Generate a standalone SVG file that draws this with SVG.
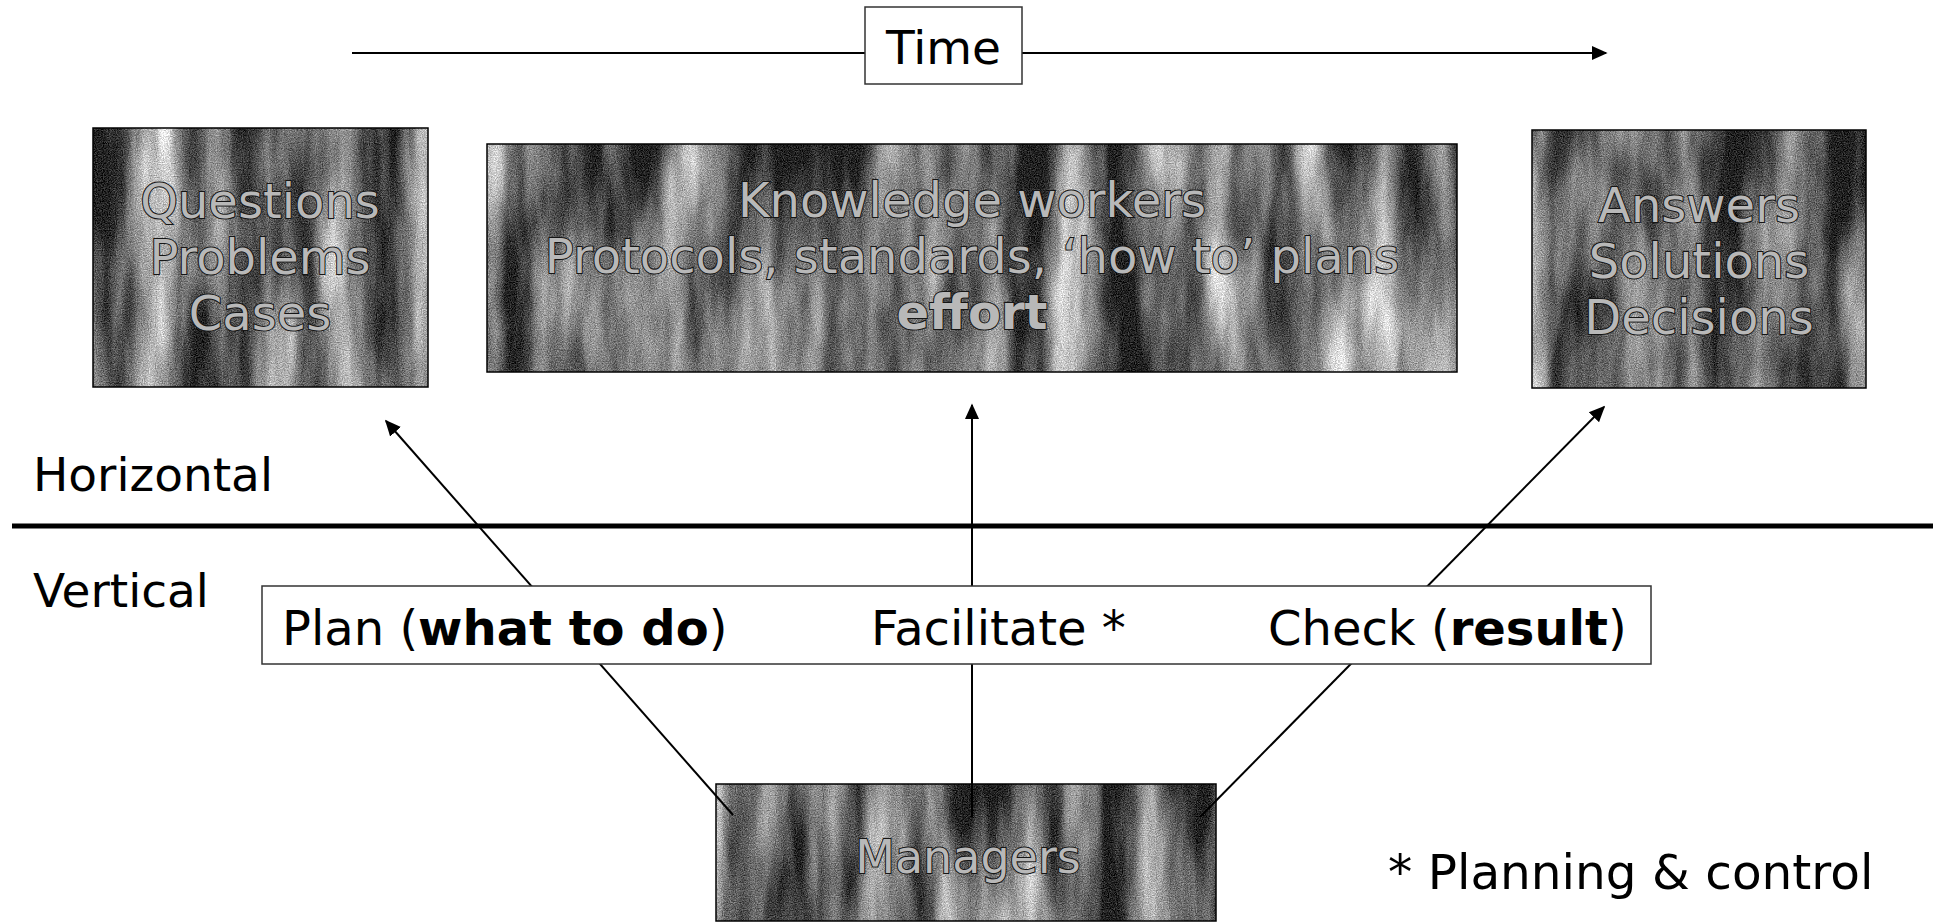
<svg xmlns="http://www.w3.org/2000/svg" width="1939" height="922" viewBox="0 0 1939 922">
  <defs>
    <filter id="grungeA" x="0" y="0" width="1" height="1" color-interpolation-filters="sRGB">
      <feTurbulence type="fractalNoise" baseFrequency="0.022 0.0035" numOctaves="4" seed="4" result="n1"/>
      <feColorMatrix in="n1" type="matrix" values="1.45 0 0 0 -0.42  1.45 0 0 0 -0.42  1.45 0 0 0 -0.42  0 0 0 0 1" result="g1"/>
      <feTurbulence type="fractalNoise" baseFrequency="0.85" numOctaves="2" seed="11" result="n2"/>
      <feColorMatrix in="n2" type="matrix" values="1 0 0 0 0  1 0 0 0 0  1 0 0 0 0  0 0 0 0 1" result="g2"/>
      <feComposite in="g1" in2="g2" operator="arithmetic" k1="0" k2="1" k3="0.6" k4="-0.17"/>
    </filter>
    <filter id="grungeB" x="0" y="0" width="1" height="1" color-interpolation-filters="sRGB">
      <feTurbulence type="fractalNoise" baseFrequency="0.02 0.004" numOctaves="4" seed="17" result="n1"/>
      <feColorMatrix in="n1" type="matrix" values="1.45 0 0 0 -0.42  1.45 0 0 0 -0.42  1.45 0 0 0 -0.42  0 0 0 0 1" result="g1"/>
      <feTurbulence type="fractalNoise" baseFrequency="0.85" numOctaves="2" seed="5" result="n2"/>
      <feColorMatrix in="n2" type="matrix" values="1 0 0 0 0  1 0 0 0 0  1 0 0 0 0  0 0 0 0 1" result="g2"/>
      <feComposite in="g1" in2="g2" operator="arithmetic" k1="0" k2="1" k3="0.6" k4="-0.17"/>
    </filter>
    <marker id="arrow" viewBox="0 0 10 10" refX="9" refY="5" markerWidth="8" markerHeight="8" markerUnits="strokeWidth" orient="auto">
      <path d="M0,0.5 L10,5 L0,9.5 Z" fill="#000"/>
    </marker>
    <style>
      text { font-family: "DejaVu Sans", Verdana, sans-serif; }
      .lbl { font-size: 47px; fill: #000; }
      .row { font-size: 48px; fill: #000; }
      .b { font-weight: bold; }
      .tex { stroke: #000; stroke-width: 1.5; fill: none; }
      .inner { font-size: 48px; fill: #b8b8b8; stroke: #151515; stroke-width: 2; paint-order: stroke; text-anchor: middle; }
      .conn { stroke: #000; stroke-width: 2; fill: none; }
      .white { fill: #fff; stroke: #333; stroke-width: 1.5; }
    </style>
  </defs>

  <rect x="0" y="0" width="1939" height="922" fill="#fff"/>

  <g id="questions">
    <rect x="93" y="128" width="335" height="259" fill="#777" filter="url(#grungeA)"/>
    <rect class="tex" x="93" y="128" width="335" height="259"/>
    <text class="inner" x="260" y="218">Questions</text>
    <text class="inner" x="260" y="274">Problems</text>
    <text class="inner" x="260" y="330">Cases</text>
  </g>

  <g id="knowledge-workers">
    <rect x="487" y="144" width="970" height="228" fill="#777" filter="url(#grungeB)"/>
    <rect class="tex" x="487" y="144" width="970" height="228"/>
    <text class="inner" x="972" y="217">Knowledge workers</text>
    <text class="inner" x="972" y="273">Protocols, standards, ‘how to’ plans</text>
    <text class="inner b" x="972" y="329">effort</text>
  </g>

  <g id="answers">
    <rect x="1532" y="130" width="334" height="258" fill="#777" filter="url(#grungeB)"/>
    <rect class="tex" x="1532" y="130" width="334" height="258"/>
    <text class="inner" x="1699" y="222">Answers</text>
    <text class="inner" x="1699" y="278">Solutions</text>
    <text class="inner" x="1699" y="334">Decisions</text>
  </g>

  <g id="managers">
    <rect x="716" y="784" width="500" height="137" fill="#777" filter="url(#grungeA)"/>
    <rect class="tex" x="716" y="784" width="500" height="137"/>
    <text class="inner" x="968" y="873" style="font-size:46px">Managers</text>
  </g>

  <g id="connectors">
    <line class="conn" x1="352" y1="53" x2="1606" y2="53" stroke-width="2.5" marker-end="url(#arrow)"/>
    <line class="conn" x1="733" y1="815" x2="386" y2="421" marker-end="url(#arrow)"/>
    <line class="conn" x1="972" y1="817" x2="972" y2="405" marker-end="url(#arrow)"/>
    <line class="conn" x1="1200" y1="817" x2="1604" y2="407" marker-end="url(#arrow)"/>
  </g>

  <g id="time">
    <rect class="white" x="865" y="7" width="157" height="77"/>
    <text class="lbl" x="943.5" y="64" text-anchor="middle">Time</text>
  </g>

  <g id="divider">
    <line x1="12" y1="526" x2="1933" y2="526" stroke="#000" stroke-width="5"/>
    <text class="lbl" x="33" y="491">Horizontal</text>
    <text class="lbl" x="33" y="607">Vertical</text>
  </g>

  <g id="management-tasks">
    <rect class="white" x="262" y="586" width="1389" height="78"/>
    <text class="row" x="282" y="645">Plan (<tspan class="b">what to do</tspan>)</text>
    <text class="row" x="871" y="645">Facilitate *</text>
    <text class="row" x="1268" y="645">Check (<tspan class="b">result</tspan>)</text>
  </g>

  <g id="footnote">
    <text class="lbl" x="1388" y="889" style="font-size:48.5px">* Planning &amp; control</text>
  </g>
</svg>
